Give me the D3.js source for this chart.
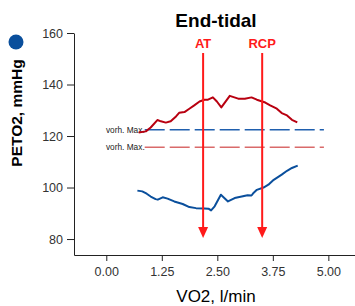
<!DOCTYPE html>
<html><head><meta charset="utf-8">
<script src="https://cdn.jsdelivr.net/npm/d3@7"></script>
<style>body{margin:0;background:#fff}svg{display:block}text{font-family:"Liberation Sans",Arial,sans-serif}</style>
</head><body>
<svg id="c" width="355" height="306"></svg>
<script>
const title = "End-tidal";
const xLabel = "VO2, l/min";
const yLabel = "PETO2, mmHg";
const xTicks = [0, 1.25, 2.5, 3.75, 5];
const yTicks = [80, 100, 120, 140, 160];
const redX = [0.73,0.89,1.00,1.15,1.23,1.34,1.45,1.57,1.64,1.76,1.87,1.98,2.10,2.21,2.29,2.40,2.49,2.59,2.78,2.97,3.12,3.27,3.39,3.58,3.69,3.84,3.95,4.07,4.18,4.30];
const redY = [121.4,121.8,123.3,126.2,125.7,125.2,125.7,127.6,129.0,129.3,130.6,131.9,133.4,134.1,134.1,135.0,133.4,131.1,135.6,134.5,134.5,135.0,134.1,133.0,131.9,130.6,128.9,128.0,126.3,125.3];
const blueX = [0.70,0.81,0.91,1.00,1.11,1.16,1.27,1.38,1.53,1.72,1.87,2.02,2.21,2.30,2.36,2.44,2.58,2.74,2.89,3.05,3.18,3.27,3.32,3.39,3.54,3.65,3.77,3.95,4.07,4.18,4.31];
const blueY = [98.8,98.5,97.6,96.5,95.5,95.3,96.2,95.7,94.6,93.6,92.4,92.0,91.9,91.8,91.1,92.7,97.2,94.6,95.9,96.5,97.0,96.9,98.0,99.1,100.0,101.1,103.0,105.0,106.5,107.6,108.5];
const refLabels = ["vorh. Max.", "vorh. Max."];
const refValues = [122.4, 115.6];
const refRange = [1.0, 4.9];
const markerLabels = ["AT", "RCP"];
const markerX = [2.18, 3.51];

const svg = d3.select("#c");
const x = d3.scaleLinear().domain([-0.727, 5.6]).range([74, 355]);
const y = d3.scaleLinear().domain([73.8, 160]).range([255, 33]);

// axes
const yAxis = svg.append("g").attr("transform","translate(74,0)")
  .call(d3.axisLeft(y).tickValues(yTicks).tickSize(7).tickPadding(4).tickFormat(d3.format("d")).tickSizeOuter(0));
const xAxis = svg.append("g").attr("transform","translate(0,255)")
  .call(d3.axisBottom(x).tickValues(xTicks).tickSize(6).tickPadding(6).tickFormat(d3.format(".2f")).tickSizeOuter(0));
[yAxis, xAxis].forEach(g => {
  g.select(".domain").attr("stroke","#222");
  g.selectAll(".tick line").attr("stroke","#222");
  g.selectAll(".tick text").attr("fill","#333").style("font-size","12.5px").style("font-family","'Liberation Sans',Arial,sans-serif");
});

// reference lines
const refColors = ["#1f5fae", "#d96a6a"];
refValues.forEach((v,i) => {
  svg.append("line").attr("x1", x(refRange[0])-6).attr("x2", x(refRange[1]))
    .attr("y1", y(v)).attr("y2", y(v)).attr("stroke", refColors[i]).attr("stroke-width",1.5)
    .attr("stroke-dasharray","20,5");
  svg.append("text").attr("x", x(refRange[0])-6).attr("y", y(v)+3).attr("text-anchor","end")
    .style("font-size","8.3px").attr("fill","#222").text(refLabels[i]);
});

// data lines
const line = d3.line().x(d=>x(d[0])).y(d=>y(d[1]));
svg.append("path").datum(redX.map((v,i)=>[v,redY[i]])).attr("d",line)
  .attr("fill","none").attr("stroke","#b80010").attr("stroke-width",2).attr("stroke-linejoin","round");
svg.append("path").datum(blueX.map((v,i)=>[v,blueY[i]])).attr("d",line)
  .attr("fill","none").attr("stroke","#0a4f9c").attr("stroke-width",2).attr("stroke-linejoin","round");

// markers
markerX.forEach((v,i) => {
  const px = x(v);
  svg.append("line").attr("x1",px).attr("x2",px).attr("y1",53).attr("y2",229)
    .attr("stroke","#ff1a1a").attr("stroke-width",2);
  svg.append("path").attr("d",`M${px-5},227 L${px+5},227 L${px},238 Z`).attr("fill","#ff1a1a");
  svg.append("text").attr("x",px).attr("y",48).attr("text-anchor","middle")
    .style("font-size","13px").style("font-weight","bold").attr("fill","#ff1a1a").text(markerLabels[i]);
});

// title and labels
svg.append("text").attr("x",216).attr("y",27).attr("text-anchor","middle")
  .style("font-size","19px").style("font-weight","bold").attr("fill","#000").text(title);
svg.append("text").attr("x",216).attr("y",302).attr("text-anchor","middle")
  .style("font-size","17px").attr("fill","#000").text(xLabel);
svg.append("text").attr("transform","translate(22,113) rotate(-90)").attr("text-anchor","middle")
  .style("font-size","15.5px").style("font-weight","bold").attr("fill","#000").text(yLabel);
svg.append("circle").attr("cx",16).attr("cy",42).attr("r",7.5).attr("fill","#0a4f9c");
</script>
</body></html>
